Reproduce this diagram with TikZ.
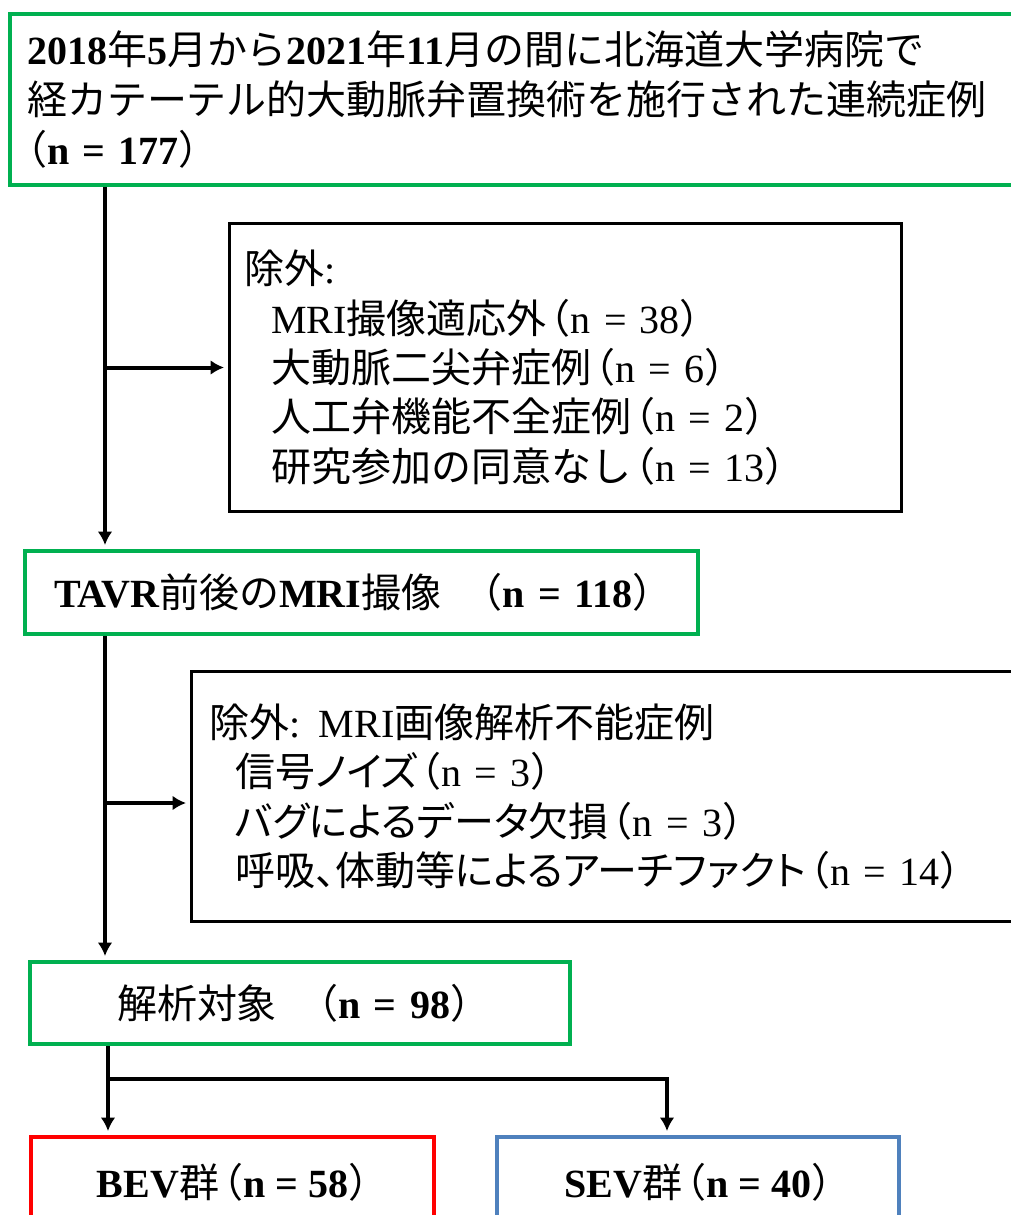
\documentclass[tikz,border=0pt]{standalone}
\usepackage{fontspec}
\setmainfont{Liberation Serif}
\newfontfamily\cjk{Noto Sans CJK JP}[BoldFont={Noto Sans CJK JP}]
\newfontfamily\cjkh{Noto Sans CJK JP}[BoldFont={Noto Sans CJK JP},RawFeature=+halt]
\newfontfamily\cjkp{Noto Sans CJK JP}[BoldFont={Noto Sans CJK JP},RawFeature=+palt]
\newcommand\jp[1]{{\cjk #1}}
\newcommand\jpp[1]{{\cjkp #1}}
\newcommand\lp{\hspace{3pt}{\cjkh （}}
\newcommand\rp{{\cjkh ）}}
\newcommand\tou{{\cjkh 、}}
\usetikzlibrary{arrows.meta}
\definecolor{boxgreen}{RGB}{0,176,80}
\definecolor{boxblue}{RGB}{79,129,189}
\definecolor{boxred}{RGB}{255,0,0}
\tikzset{
  px/.style={x=0.75pt,y=-0.75pt},
  greenbox/.style={draw=boxgreen,line width=3pt,anchor=north west,align=left,inner ysep=0pt,
    font=\fontsize{30pt}{37.5pt}\selectfont\bfseries},
  blackbox/.style={draw=black,line width=2.25pt,anchor=north west,align=left,inner ysep=0pt,
    font=\fontsize{30pt}{37pt}\selectfont},
  groupbox/.style={line width=3pt,anchor=north west,align=center,inner sep=0pt,
    font=\fontsize{30pt}{37.5pt}\selectfont\bfseries},
  arr/.style={line width=3pt,-{Latex[length=10pt,width=11pt]},shorten >=3pt},
  plain/.style={line width=3pt}
}
\begin{document}
\begin{tikzpicture}[px]
\useasboundingbox (0,0) rectangle (1011,1215);
\clip (0,0) rectangle (1011,1215);
% boxes
\node[greenbox,minimum width=759pt,minimum height=128.25pt,inner xsep=12.75pt,text width=733.5pt] (top) at (8,12)
 {\mbox{2018\jp{年}5\jp{月から}2021\jp{年}11\jp{月の間に北海道大学病院で}}\\
  \mbox{\jp{経カテーテル的大動脈弁置換術を施行された連続症例}}\\
  \mbox{{\cjkh （}n = 177\rp}};
\node[blackbox,minimum width=504pt,minimum height=216pt,inner xsep=11.25pt,text width=481.5pt] (ex1) at (228,222)
 {\jp{除外}:\\
  \mbox{\hspace*{20pt}MRI\jp{撮像適応外}\lp n = 38\rp}\\
  \mbox{\hspace*{20pt}\jp{大動脈二尖弁症例}\lp n = 6\rp}\\
  \mbox{\hspace*{20pt}\jp{人工弁機能不全症例}\lp n = 2\rp}\\
  \mbox{\hspace*{20pt}\jp{研究参加の同意なし}\lp n = 13\rp}};
\node[greenbox,minimum width=504.75pt,minimum height=62.25pt,inner xsep=21.75pt,text width=461.25pt] (tavr) at (23,549)
 {\mbox{TAVR\jp{前後の}MRI\jp{撮像}\hspace{28pt}\lp n = 118\rp}};
\node[blackbox,minimum width=626.25pt,minimum height=187.5pt,inner xsep=12.75pt,text width=600pt] (ex2) at (190,670)
 {\mbox{\jp{除外}:\hspace{14pt}MRI\jp{画像解析不能症例}}\\
  \mbox{\hspace*{19.5pt}\jp{信号}\jpp{ノイズ}\lp n = 3\rp}\\
  \mbox{\hspace*{19.5pt}\jpp{バグによるデータ}\jp{欠損}\lp n = 3\rp}\\
  \mbox{\hspace*{19.5pt}\jp{呼吸}\tou\jp{体動等}\jpp{によるアーチファクト}\lp n = 14\rp}};
\node[greenbox,minimum width=405pt,minimum height=61.5pt,inner xsep=65.25pt,text width=274.5pt] (ana) at (28,960)
 {\mbox{\jp{解析対象}\hspace{28pt}\lp n = 98\rp}};
\node[groupbox,draw=boxred,minimum width=302.25pt,minimum height=67.5pt] (bev) at (29,1135)
 {BEV\jp{群}\lp n = 58\rp};
\node[groupbox,draw=boxblue,minimum width=301.5pt,minimum height=67.5pt] (sev) at (495,1135)
 {SEV\jp{群}\lp n = 40\rp};
% connector coordinates
\coordinate (v1) at (105,0);
\coordinate (b2) at (105,803);
\coordinate (v3) at (108,0);
\coordinate (b3) at (108,1079);
\coordinate (s3) at (667,1079);
% connectors
\draw[arr] (top.south -| v1) -- (tavr.north -| v1);
\draw[arr] (ex1.west -| v1) -- (ex1.west);
\draw[arr] (tavr.south -| v1) -- (ana.north -| v1);
\draw[arr] (b2) -- (ex2.west |- b2);
\draw[arr] (ana.south -| v3) -- (bev.north -| v3);
\draw[plain] (b3) -- (s3);
\draw[arr] ([yshift=1.5pt]s3) -- (sev.north -| s3);
\end{tikzpicture}
\end{document}
